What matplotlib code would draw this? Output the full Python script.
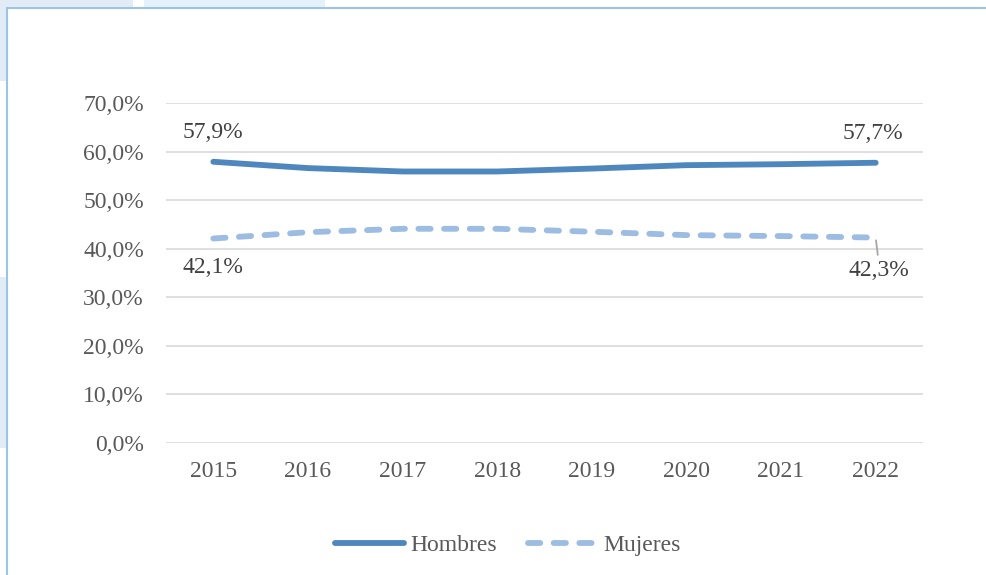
import matplotlib
matplotlib.use("Agg")
import matplotlib.pyplot as plt
from matplotlib.patches import Rectangle
from matplotlib.lines import Line2D

years = ["2015", "2016", "2017", "2018", "2019", "2020", "2021", "2022"]
hombres = [57.9, 56.6, 55.9, 55.9, 56.5, 57.2, 57.4, 57.7]
mujeres = [42.1, 43.4, 44.1, 44.1, 43.5, 42.8, 42.6, 42.3]
yticks = [0, 10, 20, 30, 40, 50, 60, 70]

c_h = "#4E87BD"
c_m = "#9DBCE2"
txt = "#595959"
lab_c = "#404040"

plt.rcParams['font.family'] = ['Liberation Serif', 'DejaVu Serif']
plt.rcParams['font.size'] = 17

W, H = 987, 575
fig = plt.figure(figsize=(W / 100, H / 100), dpi=100)

# background bits behind the chart frame
def fig_rect(x0, y0, x1, y1, **kw):
    fig.patches.append(Rectangle((x0 / W, 1 - y1 / H), (x1 - x0) / W, (y1 - y0) / H,
                                 transform=fig.transFigure, zorder=-2, **kw))

fig_rect(0, 0, 133, 81, facecolor="#E1ECF6", edgecolor="none")
fig_rect(144, 0, 325, 8, facecolor="#E4F1FA", edgecolor="none")
fig_rect(0, 277, 7, 448, facecolor="#E1ECF6", edgecolor="none")
fig_rect(7, 8, 995, 590, facecolor="white", edgecolor="#9DC3E6", linewidth=1.5)

ax = fig.add_axes([166 / W, 1 - 443 / H, (923 - 166) / W, (443 - 103) / H])
ax.set_facecolor("none")
x = list(range(len(years)))

lw = 4.2
ax.plot(x, hombres, color=c_h, linewidth=lw, solid_capstyle="round", zorder=3)
ax.plot(x, mujeres, color=c_m, linewidth=lw, dashes=(2.1, 2.3),
        dash_capstyle="round", zorder=3)

ax.set_xlim(-0.5, len(years) - 0.5)
ax.set_ylim(0, 70)
ax.set_yticks(yticks)
ax.set_yticklabels([f"{v:.1f}%".replace(".", ",") for v in yticks])
ax.set_xticks(x)
ax.set_xticklabels(years)
ax.tick_params(axis="y", length=0, pad=16, colors=txt)
ax.tick_params(axis="x", length=0, pad=13, colors=txt)
ax.grid(axis="y", color="#D9D9D9", linewidth=1.2)
ax.set_axisbelow(True)
for s in ax.spines.values():
    s.set_visible(False)

def lab(v):
    return f"{v:.1f}%".replace(".", ",")

ax.annotate(lab(hombres[0]), (x[0], hombres[0]), xytext=(0, 21),
            textcoords="offset points", ha="center", va="center", color=lab_c)
ax.annotate(lab(hombres[-1]), (x[-1], hombres[-1]), xytext=(-2, 21),
            textcoords="offset points", ha="center", va="center", color=lab_c)
ax.annotate(lab(mujeres[0]), (x[0], mujeres[0]), xytext=(0, -21),
            textcoords="offset points", ha="center", va="center", color=lab_c)
ax.annotate(lab(mujeres[-1]), (x[-1], mujeres[-1]), xytext=(2, -24),
            textcoords="offset points", ha="center", va="center", color=lab_c,
            arrowprops=dict(arrowstyle="-", color="#A6A6A6", lw=1.3,
                            shrinkA=2, shrinkB=2, relpos=(0.5, 1.0)))

handles = [Line2D([], [], color=c_h, linewidth=lw, solid_capstyle="round"),
           Line2D([], [], color=c_m, linewidth=lw, dashes=(2.1, 2.3),
                  dash_capstyle="round")]
leg = fig.legend(handles, ["Hombres", "Mujeres"], loc="center",
                 bbox_to_anchor=(508 / W, 1 - 545 / H), ncol=2, frameon=False,
                 handlelength=2.9, handletextpad=0.3, columnspacing=1.3)
for t in leg.get_texts():
    t.set_color(txt)

plt.savefig("out.png", dpi=100)
